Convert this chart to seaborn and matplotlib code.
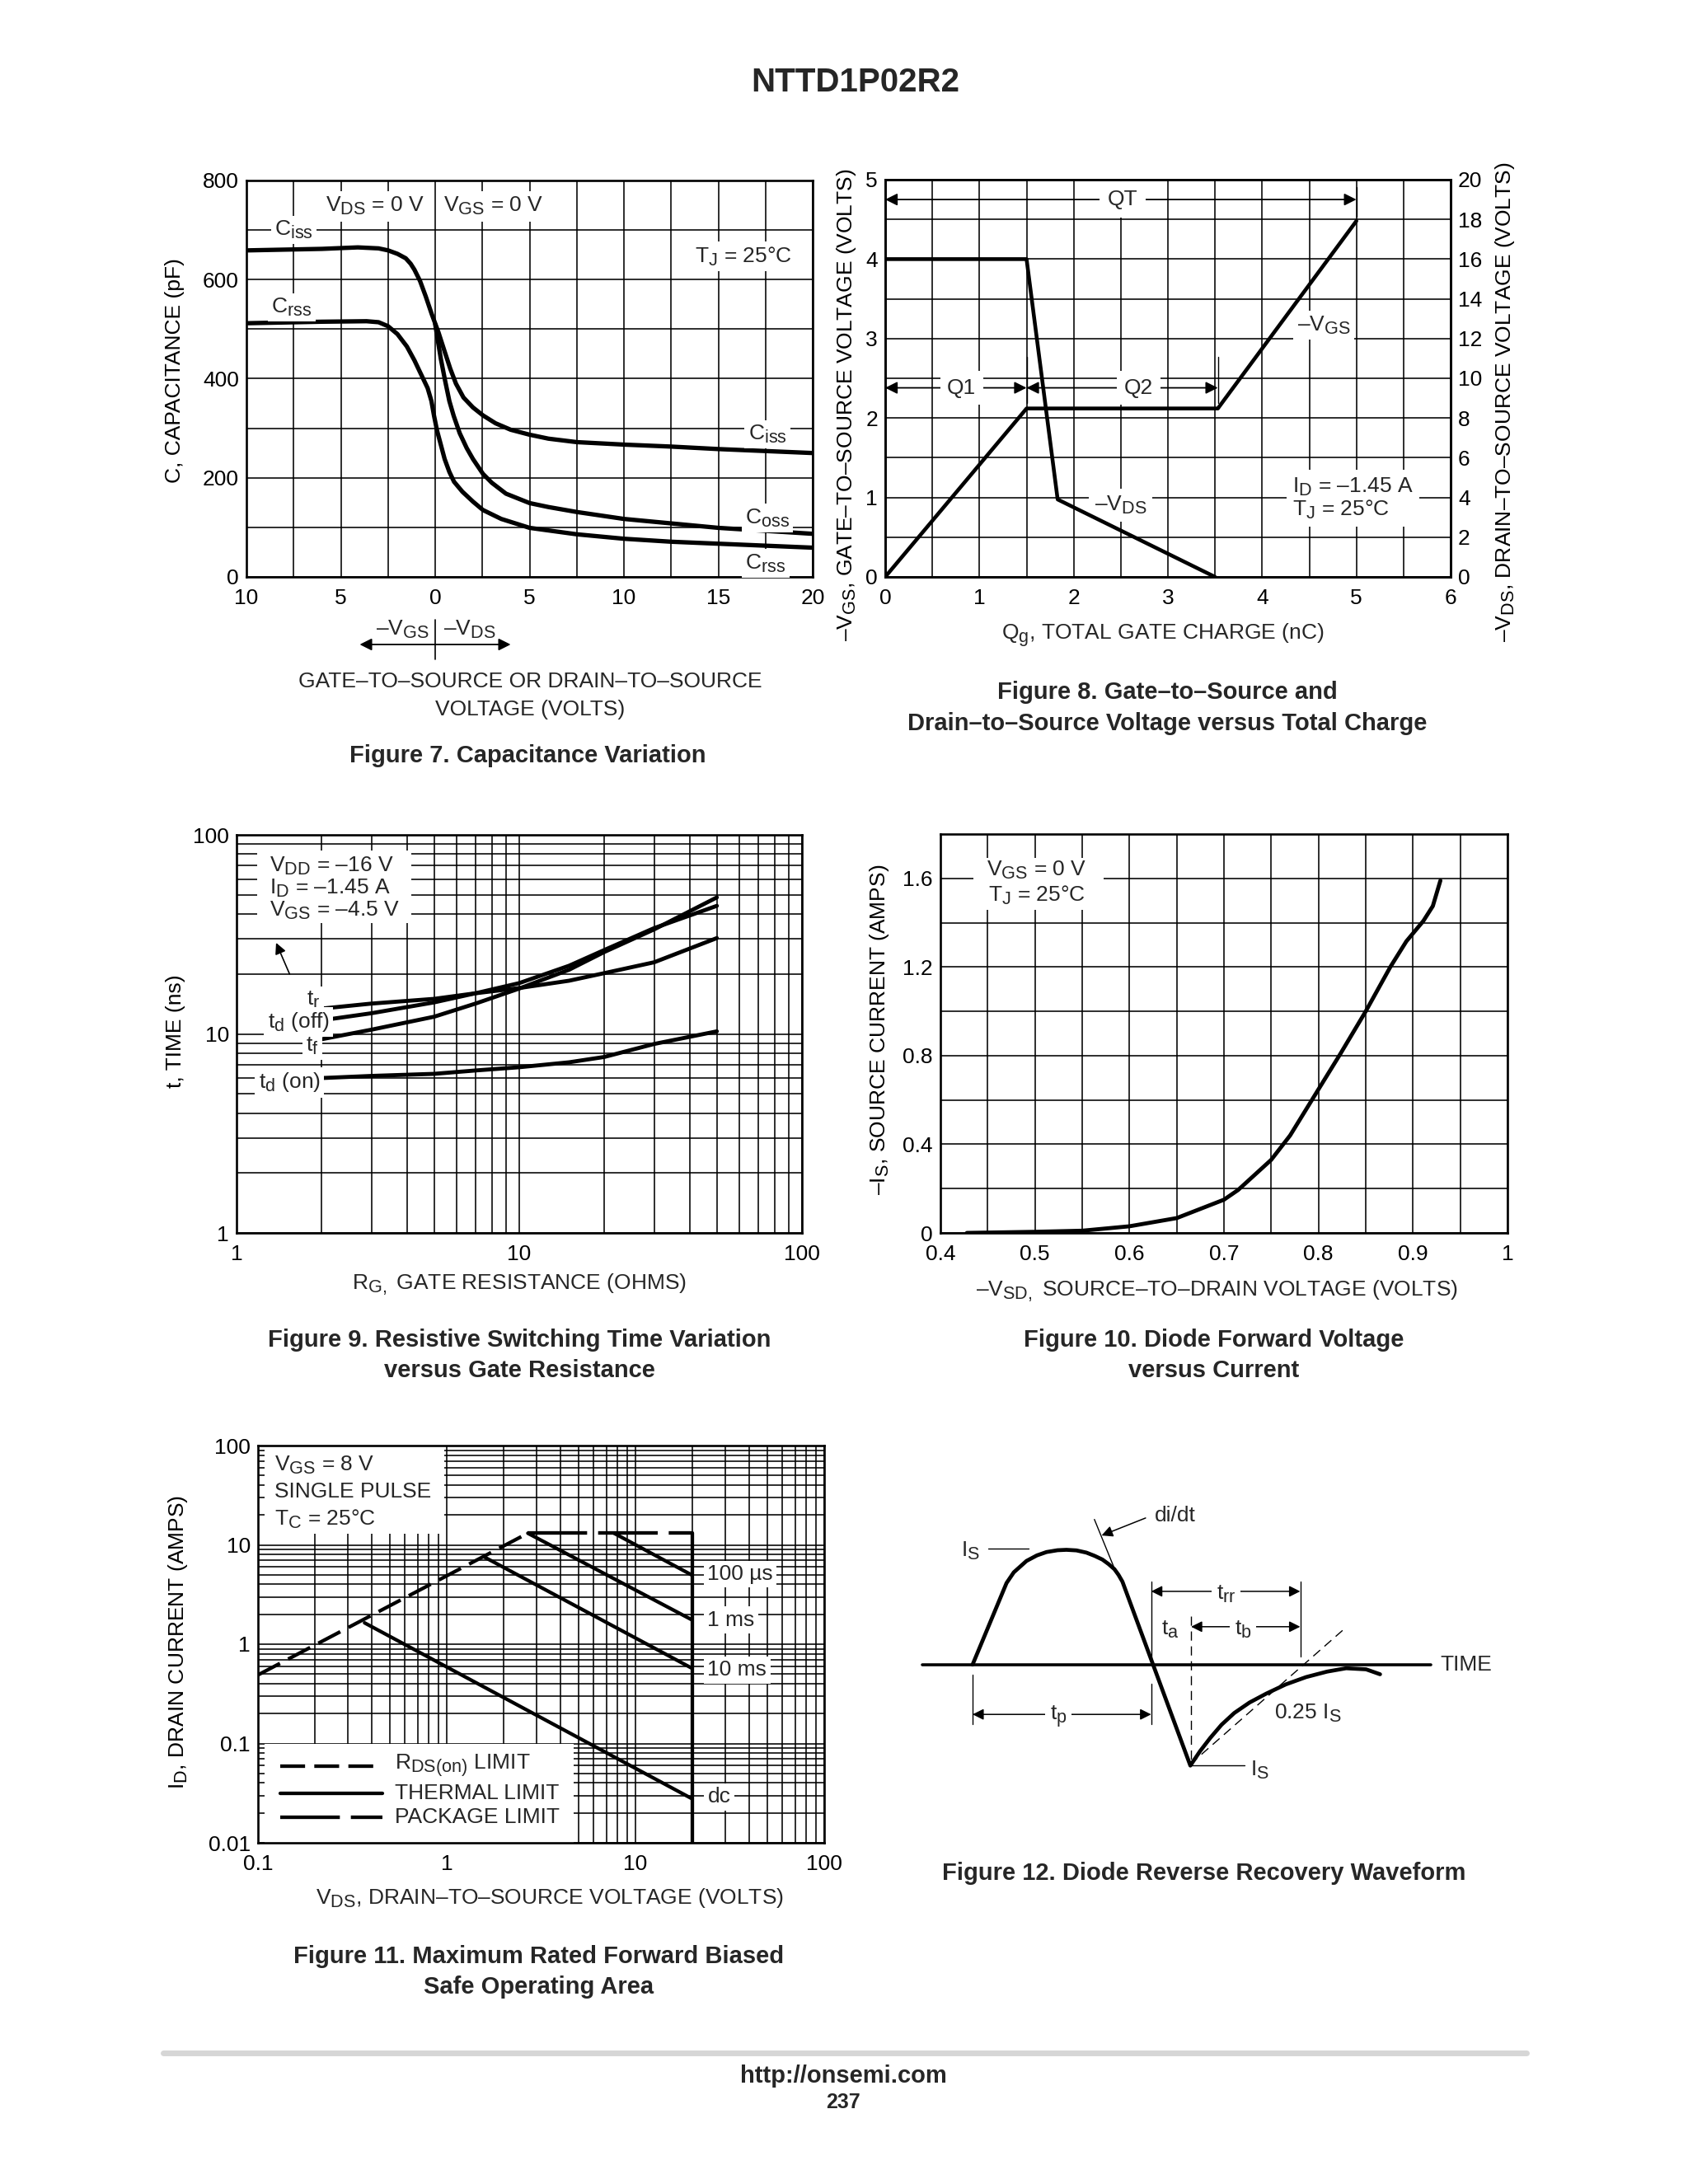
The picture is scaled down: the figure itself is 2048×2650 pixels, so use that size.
import numpy as np
import matplotlib
matplotlib.use('Agg')
import matplotlib.pyplot as plt
import matplotlib._mathtext as mathtext_impl
from matplotlib.lines import Line2D
from matplotlib.patches import Rectangle
from matplotlib.ticker import MultipleLocator, LogLocator, NullFormatter
import seaborn as sns

sns.set_theme(style='white')
plt.rcParams['font.family'] = ['Liberation Sans', 'DejaVu Sans']
plt.rcParams['mathtext.fontset'] = 'custom'
plt.rcParams['mathtext.rm'] = 'Liberation Sans'
plt.rcParams['mathtext.it'] = 'Liberation Sans:italic'
plt.rcParams['mathtext.bf'] = 'Liberation Sans:bold'
plt.rcParams['mathtext.default'] = 'regular'
# datasheet subscripts are nearly full size
mathtext_impl.SHRINK_FACTOR = 0.82

# ---- Figure 7: capacitance (x < 0 is the -VGS side, x > 0 the -VDS side)
cap_v_ciss = [-9.9, -6, -4.1, -3, -2.5, -2, -1.56, -1.3, -1.1, -0.8, -0.5, -0.18, 0.17, 0.5,
              0.8, 1.1, 1.5, 2.0, 2.53, 3.2, 4, 5, 6, 7.5, 10, 12.5, 15, 17.5, 20]
cap_ciss = [659, 662, 665, 663, 659, 652, 643, 632, 620, 597, 566, 530, 494, 455,
            420, 390, 362, 342, 326, 310, 297, 287, 279, 272, 267, 263, 258, 254, 250]
cap_v_crss = [-9.9, -6, -3.64, -3, -2.5, -2, -1.5, -1.1, -0.7, -0.4, -0.2, -0.06, 0.1, 0.29,
              0.5, 0.75, 1.0, 1.44, 2.0, 2.53, 3.5, 5, 7.5, 10, 12.5, 15, 17.5, 20]
cap_crss = [512, 515, 516, 514, 506, 490, 465, 437, 405, 381, 355, 325, 295, 268,
            238, 212, 192, 172, 152, 135, 117, 99, 86, 77, 71, 67, 63, 59]
cap_v_coss = [0.0, 0.3, 0.52, 0.75, 0.98, 1.3, 1.67, 2.0, 2.53, 3.0, 3.75, 5, 6, 7.5,
              10, 12.5, 15, 17.5, 20]
cap_coss = [510, 440, 397, 355, 325, 290, 260, 238, 208, 190, 168, 149, 141, 131,
            117, 108, 99, 93, 87]

# ---- Figure 8: gate charge
qg_vgs = [0, 1.5, 3.53, 5.0]
vgs = [0, 2.12, 2.12, 4.48]
qg_vds = [0, 1.5, 1.83, 3.5]
vds = [16, 16, 3.9, 0]

# ---- Figure 9: switching times vs gate resistance
rg = [2, 3, 5, 7, 10, 15, 20, 30, 50]
t_r = [13.4, 14.2, 15.0, 16.0, 17.0, 18.5, 20.2, 22.9, 30.3]
t_doff = [11.7, 12.7, 14.4, 16.0, 18.0, 22.0, 26.4, 34.0, 44.0]
t_f = [9.4, 10.5, 12.2, 14.2, 16.9, 21.0, 25.8, 33.5, 48.5]
t_don = [6.0, 6.15, 6.3, 6.55, 6.8, 7.2, 7.66, 8.9, 10.3]

# ---- Figure 10: diode forward voltage
vsd = [0.428, 0.50, 0.55, 0.60, 0.65, 0.70, 0.715, 0.75, 0.77, 0.80, 0.823, 0.85,
       0.876, 0.893, 0.911, 0.921, 0.929]
i_s = [0.0, 0.005, 0.01, 0.03, 0.067, 0.15, 0.194, 0.33, 0.44, 0.648, 0.807, 1.0,
       1.2, 1.316, 1.408, 1.475, 1.59]

# ---- Figure 11: safe operating area
soa_rds_v, soa_rds_i = [0.1, 2.69], [0.49, 13.1]
soa_pkg_v, soa_pkg_i = [2.69, 20.0], [13.1, 13.1]
soa_bv_v, soa_bv_i = [20.0, 20.0], [13.1, 0.01]
soa_100us_v, soa_100us_i = [7.7, 20.0], [13.1, 4.94]
soa_1ms_v, soa_1ms_i = [2.69, 20.0], [13.1, 1.75]
soa_10ms_v, soa_10ms_i = [1.57, 20.0], [7.6, 0.57]
soa_dc_v, soa_dc_i = [0.367, 20.0], [1.64, 0.0277]

# ---- Figure 12: reverse recovery waveform (schematic units)
rr_t = [1180, 1221.2, 1230, 1245.4, 1258, 1269.7, 1283, 1293.9, 1306, 1318.1, 1328, 1337.5,
        1345, 1352.1, 1357, 1361.8, 1444.2, 1456, 1468.4, 1482, 1497.5, 1516, 1536.3, 1560,
        1584.7, 1610, 1633.2, 1657.4, 1674.4]
rr_i = [0, 99, 112, 125.8, 132.5, 136.6, 138.8, 139.3, 138.6, 135.9, 132, 127.5,
        122, 115.8, 109, 100.7, -122.5, -105, -88.9, -73, -58.7, -46, -35.2, -24,
        -15.1, -8.5, -4.4, -5.7, -11.7]

W, H = 2048, 2650
FS = 19
TFS = 21
fig = plt.figure(figsize=(W / 100, H / 100), dpi=100)
fig.patch.set_facecolor('white')


def box(l, t, r, b):
    return [l / W, 1 - b / H, (r - l) / W, (b - t) / H]


def ftext(x, y, s, **kw):
    kw.setdefault('ha', 'center')
    kw.setdefault('va', 'center')
    fig.text(x / W, 1 - y / H, s, **kw)


def style(ax):
    ax.set_axisbelow(True)
    ax.set_facecolor('white')
    ax.grid(True, which='both', color='black', lw=1.15)
    for sp in ax.spines.values():
        sp.set_visible(True)
        sp.set_color('black')
        sp.set_linewidth(1.9)
    ax.tick_params(which='both', length=0, labelsize=FS, colors='black')
    ax.tick_params(axis='x', pad=10)
    ax.tick_params(axis='y', pad=6.5)


def curve(ax, x, y, lw=3.6, **kw):
    sns.lineplot(x=x, y=y, ax=ax, color='black', linewidth=lw, estimator=None,
                 sort=False, legend=False, **kw)


def label(ax, x, y, s, ha='center', va='center', bg=True, pad=3, **kw):
    bb = dict(fc='white', ec='none', pad=pad) if bg else None
    ax.text(x, y, s, ha=ha, va=va, fontsize=FS, zorder=5, bbox=bb, **kw)


def ylab(ax, s, xpix, left, width, frac=0.5):
    ax.set_ylabel(s, fontsize=FS, color='black')
    ax.yaxis.set_label_coords((xpix - left) / width, frac)
    ax.yaxis.label.set_va('center')


def arrow(ax, p0, p1, style='<|-|>', lw=1.3, ms=22, **kw):
    ax.annotate('', xy=p1, xytext=p0, zorder=4, annotation_clip=False,
                arrowprops=dict(arrowstyle=style, color='black', lw=lw, mutation_scale=ms,
                                shrinkA=0, shrinkB=0), **kw)


ftext(1038, 100, 'NTTD1P02R2', fontsize=29, fontweight='bold')

# ================= Figure 7
ax7 = fig.add_axes(box(299, 219, 986, 700))
style(ax7)
curve(ax7, cap_v_ciss, cap_ciss, lw=3.8)
curve(ax7, cap_v_crss, cap_crss, lw=3.8)
curve(ax7, cap_v_coss, cap_coss, lw=3.8)
ax7.set_xlim(-10, 20)
ax7.set_ylim(0, 800)
ax7.set_xticks([-10, -5, 0, 5, 10, 15, 20], ['10', '5', '0', '5', '10', '15', '20'])
ax7.xaxis.set_minor_locator(MultipleLocator(2.5))
ax7.set_yticks([0, 200, 400, 600, 800])
ax7.yaxis.set_minor_locator(MultipleLocator(100))
ax7.set_xlabel('')
ylab(ax7, 'C, CAPACITANCE (pF)', 212, 299, 687, 0.52)
label(ax7, -3.2, 748, '$V_{DS}$ = 0 V', pad=4)
label(ax7, 3.1, 748, '$V_{GS}$ = 0 V', pad=4)
label(ax7, 16.35, 647, '$T_J$ = 25°C')
label(ax7, -7.5, 700, '$C_{iss}$')
label(ax7, -7.6, 544, '$C_{rss}$')
label(ax7, 17.6, 288, '$C_{iss}$')
label(ax7, 17.6, 119, '$C_{oss}$')
label(ax7, 17.5, 27, '$C_{rss}$')
tr7 = ax7.get_xaxis_transform()
ax7.text(-0.3, (700 - 764) / 481, '–$V_{GS}$', transform=tr7, ha='right', va='center', fontsize=FS)
ax7.text(0.45, (700 - 764) / 481, '–$V_{DS}$', transform=tr7, ha='left', va='center', fontsize=FS)
ax7.plot([0, 0], [(700 - 752) / 481, (700 - 800) / 481], transform=tr7, clip_on=False,
         color='black', lw=1.2)
ax7.annotate('', xy=(-4.0, (700 - 782) / 481), xytext=(4.0, (700 - 782) / 481),
             xycoords=tr7, textcoords=tr7, annotation_clip=False,
             arrowprops=dict(arrowstyle='<|-|>', color='black', lw=1.3, mutation_scale=22,
                             shrinkA=0, shrinkB=0))
ftext(643, 827, 'GATE–TO–SOURCE OR DRAIN–TO–SOURCE', fontsize=FS)
ftext(643, 861, 'VOLTAGE (VOLTS)', fontsize=FS)
ftext(640, 917, 'Figure 7. Capacitance Variation', fontsize=TFS, fontweight='bold')

# ================= Figure 8
ax8 = fig.add_axes(box(1074, 218, 1760, 700))
style(ax8)
curve(ax8, qg_vgs, vgs, lw=3.3)
ax8.set_xlim(0, 6)
ax8.set_ylim(0, 5)
ax8.set_xticks(range(0, 7))
ax8.xaxis.set_minor_locator(MultipleLocator(0.5))
ax8.set_yticks(range(0, 6))
ax8.yaxis.set_minor_locator(MultipleLocator(0.5))
ax8b = ax8.twinx()
curve(ax8b, qg_vds, vds, lw=3.3)
ax8b.set_ylim(0, 20)
ax8b.set_yticks(range(0, 21, 2))
ax8b.grid(False)
ax8b.tick_params(length=0, labelsize=FS, colors='black', pad=6.5)
for sp in ax8b.spines.values():
    sp.set_color('black')
    sp.set_linewidth(1.9)
ax8.set_xlabel('')
ylab(ax8, '–$V_{GS}$, GATE–TO–SOURCE VOLTAGE (VOLTS)', 1027, 1074, 686, 0.434)
ylab(ax8b, '–$V_{DS}$, DRAIN–TO–SOURCE VOLTAGE (VOLTS)', 1826, 1074, 686, 0.44)
arrow(ax8, (qg_vgs[0], 4.75), (qg_vgs[3], 4.75))
arrow(ax8, (qg_vgs[0], 2.38), (qg_vgs[1], 2.38))
arrow(ax8, (qg_vgs[1], 2.38), (qg_vgs[2], 2.38))
for xq, y0, y1 in [(qg_vgs[1], 2.19, 2.77), (qg_vgs[2], 2.19, 2.77), (qg_vgs[3], 4.53, 4.91)]:
    ax8.plot([xq, xq], [y0, y1], color='black', lw=1.0, zorder=4)
label(ax8, 2.52, 4.75, 'QT', pad=7)
label(ax8, 0.81, 2.38, 'Q1', pad=6)
label(ax8, 2.69, 2.38, 'Q2', pad=6)
label(ax8, 4.37, 3.17, '–$V_{GS}$', ha='left')
label(ax8, 2.5, 0.9, '–$V_{DS}$', pad=5)
ax8.text(4.32, 0.99, '$I_D$ = –1.45 A\n$T_J$ = 25°C', ha='left', va='center', fontsize=FS,
         zorder=5, linespacing=1.05, bbox=dict(fc='white', ec='none', pad=5))
ftext(1411, 771, '$Q_g$, TOTAL GATE CHARGE (nC)', fontsize=FS)
ftext(1416, 840, 'Figure 8. Gate–to–Source and', fontsize=TFS, fontweight='bold')
ftext(1416, 878, 'Drain–to–Source Voltage versus Total Charge', fontsize=TFS, fontweight='bold')

# ================= Figure 9
ax9 = fig.add_axes(box(287, 1013, 973, 1496))
ax9.set_xscale('log')
ax9.set_yscale('log')
style(ax9)
for ys in (t_r, t_doff, t_f, t_don):
    curve(ax9, rg, ys, lw=3.5)
ax9.set_xlim(1, 100)
ax9.set_ylim(1, 100)
for axis in (ax9.xaxis, ax9.yaxis):
    axis.set_minor_locator(LogLocator(base=10, subs=np.arange(2, 10)))
    axis.set_minor_formatter(NullFormatter())
ax9.set_xticks([1, 10, 100], ['1', '10', '100'])
ax9.set_yticks([1, 10, 100], ['1', '10', '100'])
ax9.set_xlabel('')
ylab(ax9, 't, TIME (ns)', 213, 287, 686, 0.507)
ax9.add_patch(Rectangle((0.036, 0.778), 0.273, 0.182, transform=ax9.transAxes,
                        fc='white', ec='none', zorder=1.5))
label(ax9, 1.31, 70, '$V_{DD}$ = –16 V', ha='left', bg=False)
label(ax9, 1.31, 54, '$I_D$ = –1.45 A', ha='left', bg=False)
label(ax9, 1.31, 41.6, '$V_{GS}$ = –4.5 V', ha='left', bg=False)
arrow(ax9, (1.54, 20), (1.38, 28.7), style='-|>', lw=1.2, ms=20)
label(ax9, 1.98, 14.8, '$t_r$', ha='right')
label(ax9, 2.13, 11.5, '$t_d$ (off)', ha='right')
label(ax9, 1.95, 8.7, '$t_f$', ha='right')
label(ax9, 1.98, 5.7, '$t_d$ (on)', ha='right')
ftext(630, 1558, '$R_{G,}$ GATE RESISTANCE (OHMS)', fontsize=FS)
ftext(630, 1626, 'Figure 9. Resistive Switching Time Variation', fontsize=TFS, fontweight='bold')
ftext(630, 1663, 'versus Gate Resistance', fontsize=TFS, fontweight='bold')

# ================= Figure 10
ax10 = fig.add_axes(box(1141, 1012, 1829, 1496))
style(ax10)
curve(ax10, vsd, i_s, lw=3.5)
ax10.set_xlim(0.4, 1.0)
ax10.set_ylim(0, 1.8)
ax10.set_xticks([0.4, 0.5, 0.6, 0.7, 0.8, 0.9, 1.0], ['0.4', '0.5', '0.6', '0.7', '0.8', '0.9', '1'])
ax10.xaxis.set_minor_locator(MultipleLocator(0.05))
ax10.set_yticks([0, 0.4, 0.8, 1.2, 1.6], ['0', '0.4', '0.8', '1.2', '1.6'])
ax10.yaxis.set_minor_locator(MultipleLocator(0.2))
ax10.set_xlabel('')
ylab(ax10, '–$I_S$, SOURCE CURRENT (AMPS)', 1067, 1141, 688, 0.51)
ax10.add_patch(Rectangle((0.058, 0.81), 0.23, 0.13, transform=ax10.transAxes,
                         fc='white', ec='none', zorder=1.5))
label(ax10, 0.502, 1.637, '$V_{GS}$ = 0 V', bg=False)
label(ax10, 0.502, 1.525, '$T_J$ = 25°C', bg=False)
ftext(1476, 1566, '–$V_{SD,}$ SOURCE–TO–DRAIN VOLTAGE (VOLTS)', fontsize=FS)
ftext(1473, 1626, 'Figure 10. Diode Forward Voltage', fontsize=TFS, fontweight='bold')
ftext(1473, 1663, 'versus Current', fontsize=TFS, fontweight='bold')

# ================= Figure 11
ax11 = fig.add_axes(box(313, 1754, 1000, 2236))
ax11.set_xscale('log')
ax11.set_yscale('log')
style(ax11)
rds_ls = (0, (7, 2.6))
pkg_ls = (0, (16.8, 3.1))
curve(ax11, soa_rds_v, soa_rds_i, lw=3.1, linestyle=rds_ls)
curve(ax11, soa_pkg_v, soa_pkg_i, lw=3.1, linestyle=pkg_ls)
ax11.plot(soa_bv_v, soa_bv_i, color='black', lw=3.1)
for vv, ii in [(soa_100us_v, soa_100us_i), (soa_1ms_v, soa_1ms_i),
               (soa_10ms_v, soa_10ms_i), (soa_dc_v, soa_dc_i)]:
    curve(ax11, vv, ii, lw=3.1)
ax11.set_xlim(0.1, 100)
ax11.set_ylim(0.01, 100)
for axis in (ax11.xaxis, ax11.yaxis):
    axis.set_minor_locator(LogLocator(base=10, subs=np.arange(2, 10)))
    axis.set_minor_formatter(NullFormatter())
ax11.set_xticks([0.1, 1, 10, 100], ['0.1', '1', '10', '100'])
ax11.set_yticks([0.01, 0.1, 1, 10, 100], ['0.01', '0.1', '1', '10', '100'])
ax11.set_xlabel('')
ylab(ax11, '$I_D$, DRAIN CURRENT (AMPS)', 216, 313, 687, 0.506)
ax11.add_patch(Rectangle((0.011, 0.777), 0.318, 0.223, transform=ax11.transAxes,
                         fc='white', ec='none', zorder=1.5))
ax11.add_patch(Rectangle((0.011, 0.0), 0.547, 0.25, transform=ax11.transAxes,
                         fc='white', ec='none', zorder=1.5))
label(ax11, 0.122, 63, '$V_{GS}$ = 8 V', ha='left', bg=False)
label(ax11, 0.122, 34.5, 'SINGLE PULSE', ha='left', bg=False)
label(ax11, 0.122, 18, '$T_C$ = 25°C', ha='left', bg=False)
label(ax11, 24.1, 5.1, '100 µs', ha='left')
label(ax11, 24.1, 1.75, '1 ms', ha='left')
label(ax11, 24.1, 0.55, '10 ms', ha='left')
label(ax11, 24.1, 0.029, 'dc', ha='left')
for yy, ls, txt in [(0.193, rds_ls, '$R_{DS(on)}$ LIMIT'), (0.125, '-', 'THERMAL LIMIT'),
                    (0.064, pkg_ls, 'PACKAGE LIMIT')]:
    ax11.plot([0.040, 0.2194], [yy, yy], transform=ax11.transAxes, color='black', lw=3.1,
              linestyle=ls, zorder=3)
    ax11.text(0.2415, yy, txt, transform=ax11.transAxes, ha='left', va='center',
              fontsize=FS, zorder=5)
ftext(667, 2303, '$V_{DS}$, DRAIN–TO–SOURCE VOLTAGE (VOLTS)', fontsize=FS)
ftext(654, 2374, 'Figure 11. Maximum Rated Forward Biased', fontsize=TFS, fontweight='bold')
ftext(654, 2411, 'Safe Operating Area', fontsize=TFS, fontweight='bold')

# ================= Figure 12
ax12 = fig.add_axes(box(1100, 1800, 1860, 2200))
ax12.axis('off')
ax12.set_xlim(1100, 1860)
ax12.set_ylim(-180.2, 219.8)
curve(ax12, rr_t, rr_i, lw=3.4)
ax12.plot([1119, 1736], [0, 0], color='black', lw=2.6)
ax12.text(1747, 0, 'TIME', ha='left', va='center', fontsize=FS)
ax12.plot([1327.8, 1351.1], [176.2, 119.1], color='black', lw=1.0)
arrow(ax12, (1389.9, 177.9), (1336.5, 156.7), style='-|>', lw=1.1, ms=20)
ax12.text(1400.5, 181.2, 'di/dt', ha='left', va='center', fontsize=FS)
ax12.plot([1199.4, 1247.8], [140.9, 140.9], color='black', lw=1.0)
ax12.text(1177.6, 137.6, '$I_S$', ha='center', va='center', fontsize=FS)
for tx, y0, y1 in [(1396.7, 100.7, 1.7), (1577.5, 100.7, 10.0), (1180, -11.7, -72.1),
                   (1396.7, -23.5, -72.1)]:
    ax12.plot([tx, tx], [y0, y1], color='black', lw=1.0)
ax12.plot([1445.1, 1445.1], [58.7, -119.1], color='black', lw=1.0, linestyle=(0, (8, 5)))
ax12.plot([1444.2, 1633.2], [-120.8, 45.3], color='black', lw=1.0, linestyle=(0, (8, 5)))
arrow(ax12, (1396.7, 88.9), (1577.5, 88.9), lw=1.1, ms=20)
arrow(ax12, (1445.1, 46.0), (1577.5, 46.0), lw=1.1, ms=20)
arrow(ax12, (1180, -60.4), (1396.7, -60.4), lw=1.1, ms=20)
label(ax12, 1487.8, 85.6, '$t_{rr}$', pad=4)
label(ax12, 1508.1, 42, '$t_b$', pad=4)
label(ax12, 1420, 42, '$t_a$', bg=False)
label(ax12, 1284.2, -63.8, '$t_p$', pad=4)
ax12.text(1546, -58.7, '0.25 $I_S$', ha='left', va='center', fontsize=FS)
ax12.plot([1445.1, 1509.6], [-121.8, -121.8], color='black', lw=1.0)
ax12.text(1517, -128, '$I_S$', ha='left', va='center', fontsize=FS)
ftext(1461, 2273, 'Figure 12. Diode Reverse Recovery Waveform', fontsize=TFS, fontweight='bold')

# footer
fig.add_artist(Line2D([198 / W, 1852 / W], [1 - 2491 / H, 1 - 2491 / H], color='#d6d6d6', lw=5))
ftext(1023, 2519, 'http://onsemi.com', fontsize=TFS, fontweight='bold')
ftext(1023, 2551, '237', fontsize=18, fontweight='bold')

fig.savefig('out.png', dpi=100, facecolor='white')
